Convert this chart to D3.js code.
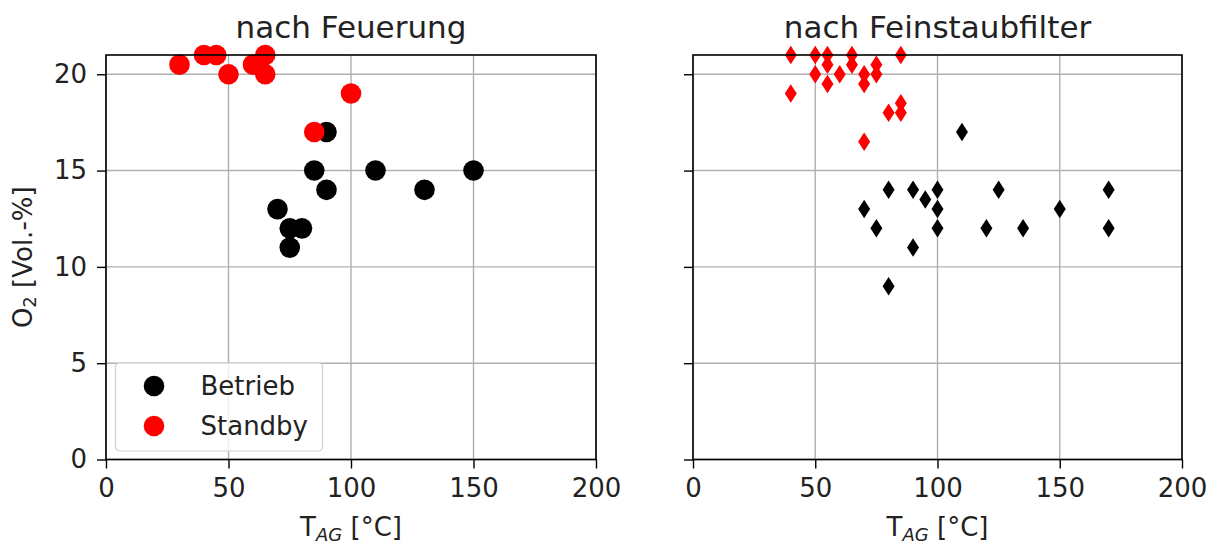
<!DOCTYPE html>
<html>
<head>
<meta charset="utf-8">
<script src="https://cdn.jsdelivr.net/npm/d3@7"></script>
<style>
  html, body { margin: 0; padding: 0; background: #fff; }
  svg { display: block; font-family: "DejaVu Sans", sans-serif; }
</style>
</head>
<body>
<div id="chart"></div>
<script>
// Tick values shared by both panels
const xTicks = [0, 50, 100, 150, 200];
const yTicks = [0, 5, 10, 15, 20];

// nach Feuerung
const feuerungBetriebT = [90, 85, 110, 150, 90, 130, 70, 75, 80, 75];
const feuerungBetriebO2 = [17, 15, 15, 15, 14, 14, 13, 12, 12, 11];
const feuerungStandbyT = [30, 40, 45, 50, 60, 65, 65, 100, 85];
const feuerungStandbyO2 = [20.5, 21, 21, 20, 20.5, 21, 20, 19, 17];

// nach Feinstaubfilter
const filterBetriebT = [110, 80, 90, 100, 125, 170, 95, 70, 100, 150, 75, 100, 120, 135, 170, 90, 80];
const filterBetriebO2 = [17, 14, 14, 14, 14, 14, 13.5, 13, 13, 13, 12, 12, 12, 12, 12, 11, 9];
const filterStandbyT = [40, 50, 55, 65, 85, 55, 65, 75, 50, 60, 70, 75, 55, 70, 40, 85, 80, 85, 70];
const filterStandbyO2 = [21, 21, 21, 21, 21, 20.5, 20.5, 20.5, 20, 20, 20, 20, 19.5, 19.5, 19, 18.5, 18, 18, 16.5];

const seriesNames = ["Betrieb", "Standby"];
const seriesColors = ["#000000", "#ff0000"];

const width = 1216;
const height = 545;
const plotTop = 55, plotBottom = 459.5;
const tickLen = 9;
const baseFont = 26;

const zip = (xs, ys) => xs.map((x, i) => ({ x, y: ys[i] }));

const panels = [
  {
    title: "nach Feuerung",
    left: 106, right: 596,
    marker: "circle",
    showYLabels: true,
    legend: true,
    series: [zip(feuerungBetriebT, feuerungBetriebO2), zip(feuerungStandbyT, feuerungStandbyO2)],
  },
  {
    title: "nach Feinstaubfilter",
    left: 693, right: 1182,
    marker: "diamond",
    showYLabels: false,
    legend: false,
    series: [zip(filterBetriebT, filterBetriebO2), zip(filterStandbyT, filterStandbyO2)],
  },
];

const svg = d3.select("#chart")
  .append("svg")
  .attr("width", width)
  .attr("height", height);

// thin diamond like matplotlib's "d" marker
const diamondPath = (w, h) => `M0,${-h / 2}L${w / 2},0L0,${h / 2}L${-w / 2},0Z`;

panels.forEach((p) => {
  const x = d3.scaleLinear().domain([0, 200]).range([p.left, p.right]);
  const y = d3.scaleLinear().domain([0, 21]).range([plotBottom, plotTop]);
  const g = svg.append("g");

  // grid
  g.append("g")
    .selectAll("line")
    .data(xTicks)
    .join("line")
    .attr("x1", (d) => x(d)).attr("x2", (d) => x(d))
    .attr("y1", plotTop).attr("y2", plotBottom)
    .attr("stroke", "#b0b0b0").attr("stroke-width", 1.4);
  g.append("g")
    .selectAll("line")
    .data(yTicks)
    .join("line")
    .attr("x1", p.left).attr("x2", p.right)
    .attr("y1", (d) => y(d)).attr("y2", (d) => y(d))
    .attr("stroke", "#b0b0b0").attr("stroke-width", 1.4);

  // points, Betrieb first then Standby on top
  p.series.forEach((data, si) => {
    if (p.marker === "circle") {
      g.append("g")
        .selectAll("circle")
        .data(data)
        .join("circle")
        .attr("cx", (d) => x(d.x))
        .attr("cy", (d) => y(d.y))
        .attr("r", 10.3)
        .attr("fill", seriesColors[si]);
    } else {
      g.append("g")
        .selectAll("path")
        .data(data)
        .join("path")
        .attr("transform", (d) => `translate(${x(d.x)},${y(d.y)})`)
        .attr("d", diamondPath(12, 18.5))
        .attr("fill", seriesColors[si]);
    }
  });

  // axes with outward ticks
  const xAxis = d3.axisBottom(x).tickValues(xTicks).tickSize(tickLen).tickPadding(10);
  const yAxis = d3.axisLeft(y).tickValues(yTicks).tickSize(tickLen).tickPadding(10);
  if (!p.showYLabels) yAxis.tickFormat(() => "");

  const xg = g.append("g").attr("transform", `translate(0,${plotBottom})`).call(xAxis);
  const yg = g.append("g").attr("transform", `translate(${p.left},0)`).call(yAxis);
  [xg, yg].forEach((ag) => {
    ag.select(".domain").remove();
    ag.selectAll(".tick line").attr("stroke", "#000").attr("stroke-width", 1.4);
    ag.selectAll(".tick text")
      .attr("fill", "#222")
      .style("font-family", "DejaVu Sans")
      .style("font-size", baseFont + "px");
  });

  // frame on top of markers
  g.append("rect")
    .attr("x", p.left).attr("y", plotTop)
    .attr("width", p.right - p.left).attr("height", plotBottom - plotTop)
    .attr("fill", "none")
    .attr("stroke", "#000").attr("stroke-width", 1.6);

  // title
  g.append("text")
    .attr("x", (p.left + p.right) / 2)
    .attr("y", 38)
    .attr("text-anchor", "middle")
    .style("font-size", "31px")
    .attr("fill", "#222")
    .text(p.title);

  // x label: T_AG [°C]
  const xl = g.append("text")
    .attr("x", (p.left + p.right) / 2)
    .attr("y", 536)
    .attr("text-anchor", "middle")
    .style("font-size", baseFont + "px")
    .attr("fill", "#222");
  xl.append("tspan").text("T");
  xl.append("tspan").attr("font-style", "italic").attr("font-size", "18px").attr("dy", 5).text("AG");
  xl.append("tspan").attr("dy", -5).text(" [°C]");

  // y label: O2 [Vol.-%]
  if (p.showYLabels) {
    const yl = g.append("text")
      .attr("transform", `translate(32,${(plotTop + plotBottom) / 2}) rotate(-90)`)
      .attr("text-anchor", "middle")
      .style("font-size", baseFont + "px")
      .attr("fill", "#222");
    yl.append("tspan").text("O");
    yl.append("tspan").attr("font-size", "18px").attr("dy", 4).text("2");
    yl.append("tspan").attr("dy", -4).text(" [Vol.-%]");
  }

  // legend
  if (p.legend) {
    const lg = g.append("g").attr("transform", "translate(115.5,363)");
    lg.append("rect")
      .attr("width", 207).attr("height", 88)
      .attr("rx", 4)
      .attr("fill", "#fff").attr("fill-opacity", 0.8)
      .attr("stroke", "#d0d0d0").attr("stroke-width", 1.2);
    const items = lg.selectAll(".legend-item")
      .data(seriesNames)
      .join("g")
      .attr("class", "legend-item")
      .attr("transform", (d, i) => `translate(0,${23 + i * 40})`);
    items.append("circle")
      .attr("cx", 38.5).attr("cy", 0).attr("r", 10.3)
      .attr("fill", (d, i) => seriesColors[i]);
    items.append("text")
      .attr("x", 85).attr("y", 0)
      .attr("dy", "0.36em")
      .style("font-size", baseFont + "px")
      .attr("fill", "#222")
      .text((d) => d);
  }
});
</script>
</body>
</html>
